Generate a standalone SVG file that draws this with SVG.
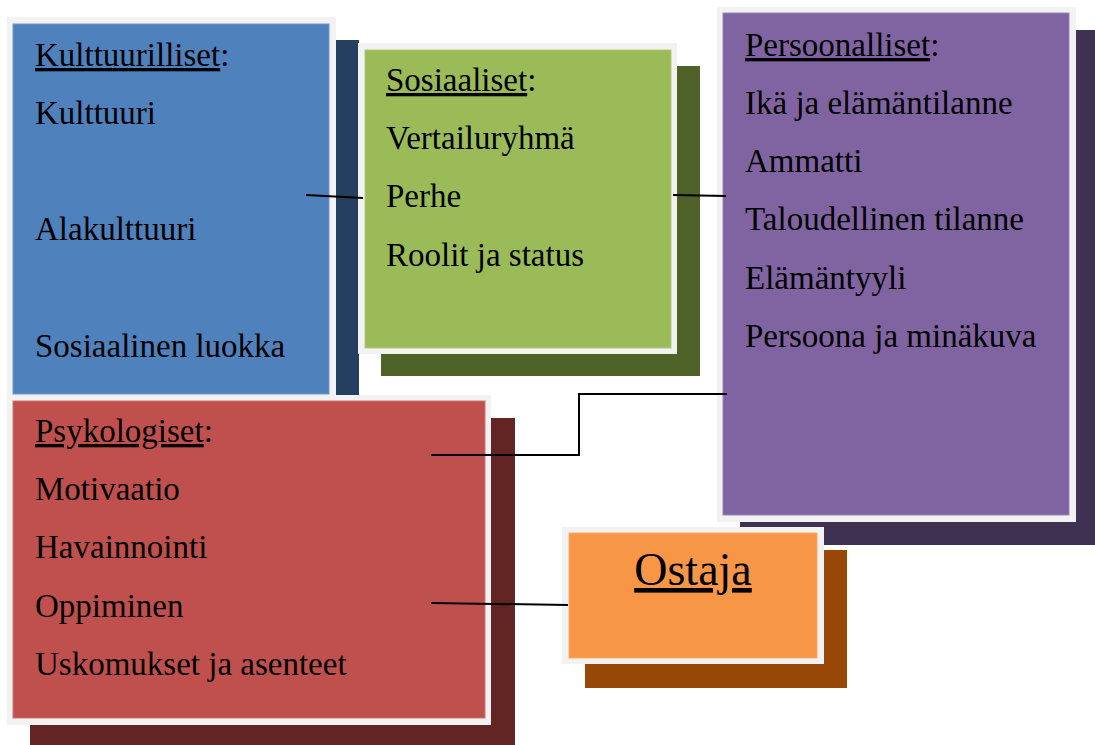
<svg xmlns="http://www.w3.org/2000/svg" width="1095" height="745" viewBox="0 0 1095 745">
<style>
.frame{fill:#f2f2f2}
.t{font-family:"Liberation Serif","Times New Roman",serif;font-size:33px;fill:#000}
.u{text-decoration:underline}
.big{font-size:46px}
.conn{fill:none;stroke:#000;stroke-width:2}
</style>
<rect x="0" y="0" width="1095" height="745" fill="#fff"/>
<g id="node-kulttuurilliset">
<rect x="30" y="40" width="329" height="378" fill="#243f60"/>
<rect class="frame" x="7" y="17" width="329" height="383"/>
<rect x="13" y="24" width="316" height="370" fill="#4f81bd" stroke="#6f97c8" stroke-width="1"/>
<text class="t" x="35" y="66"><tspan class="u">Kulttuurilliset</tspan>:</text>
<text class="t" x="35" y="124">Kulttuuri</text>
<text class="t" x="35" y="240">Alakulttuuri</text>
<text class="t" x="35" y="357">Sosiaalinen luokka</text>
</g>
<g id="node-sosiaaliset">
<rect x="381" y="66" width="319" height="310" fill="#4f6228"/>
<rect class="frame" x="358" y="43" width="319" height="311"/>
<rect x="365" y="50" width="306" height="298" fill="#9bbb59" stroke="#b0ca7b" stroke-width="1"/>
<text class="t" x="386" y="91"><tspan class="u">Sosiaaliset</tspan>:</text>
<text class="t" x="386" y="149">Vertailuryhmä</text>
<text class="t" x="386" y="207">Perhe</text>
<text class="t" x="386" y="266">Roolit ja status</text>
</g>
<g id="node-persoonalliset">
<rect x="740" y="30" width="359" height="515" fill="#3f3151"/>
<rect class="frame" x="717" y="7" width="359" height="515"/>
<rect x="723" y="13" width="346" height="502" fill="#8064a2" stroke="#9882b5" stroke-width="1"/>
<text class="t" x="745" y="56"><tspan class="u">Persoonalliset</tspan>:</text>
<text class="t" x="745" y="114">Ikä ja elämäntilanne</text>
<text class="t" x="745" y="172">Ammatti</text>
<text class="t" x="745" y="230">Taloudellinen tilanne</text>
<text class="t" x="745" y="289">Elämäntyyli</text>
<text class="t" x="745" y="347">Persoona ja minäkuva</text>
</g>
<g id="node-psykologiset">
<rect x="30" y="418" width="485" height="330" fill="#632523"/>
<rect class="frame" x="7" y="395" width="484" height="330"/>
<rect x="13" y="401" width="472" height="317" fill="#c0504d" stroke="#cd726f" stroke-width="1"/>
<text class="t" x="35" y="442"><tspan class="u">Psykologiset</tspan>:</text>
<text class="t" x="35" y="500">Motivaatio</text>
<text class="t" x="35" y="558">Havainnointi</text>
<text class="t" x="35" y="617">Oppiminen</text>
<text class="t" x="35" y="675">Uskomukset ja asenteet</text>
</g>
<g id="node-ostaja">
<rect x="585" y="550" width="262" height="138" fill="#974806"/>
<rect class="frame" x="562" y="527" width="262" height="137"/>
<rect x="569" y="533" width="248" height="125" fill="#f79646" stroke="#f9ab6b" stroke-width="1"/>
<text class="t big u" x="693" y="585" text-anchor="middle">Ostaja</text>
</g>
<g id="connectors">
<path class="conn" d="M306,195 L363,198"/>
<path class="conn" d="M673,195 L726,196"/>
<path class="conn" d="M431,455 L579,455 L579,394 L727,394"/>
<path class="conn" d="M431,603 L568,605"/>
</g>
</svg>
